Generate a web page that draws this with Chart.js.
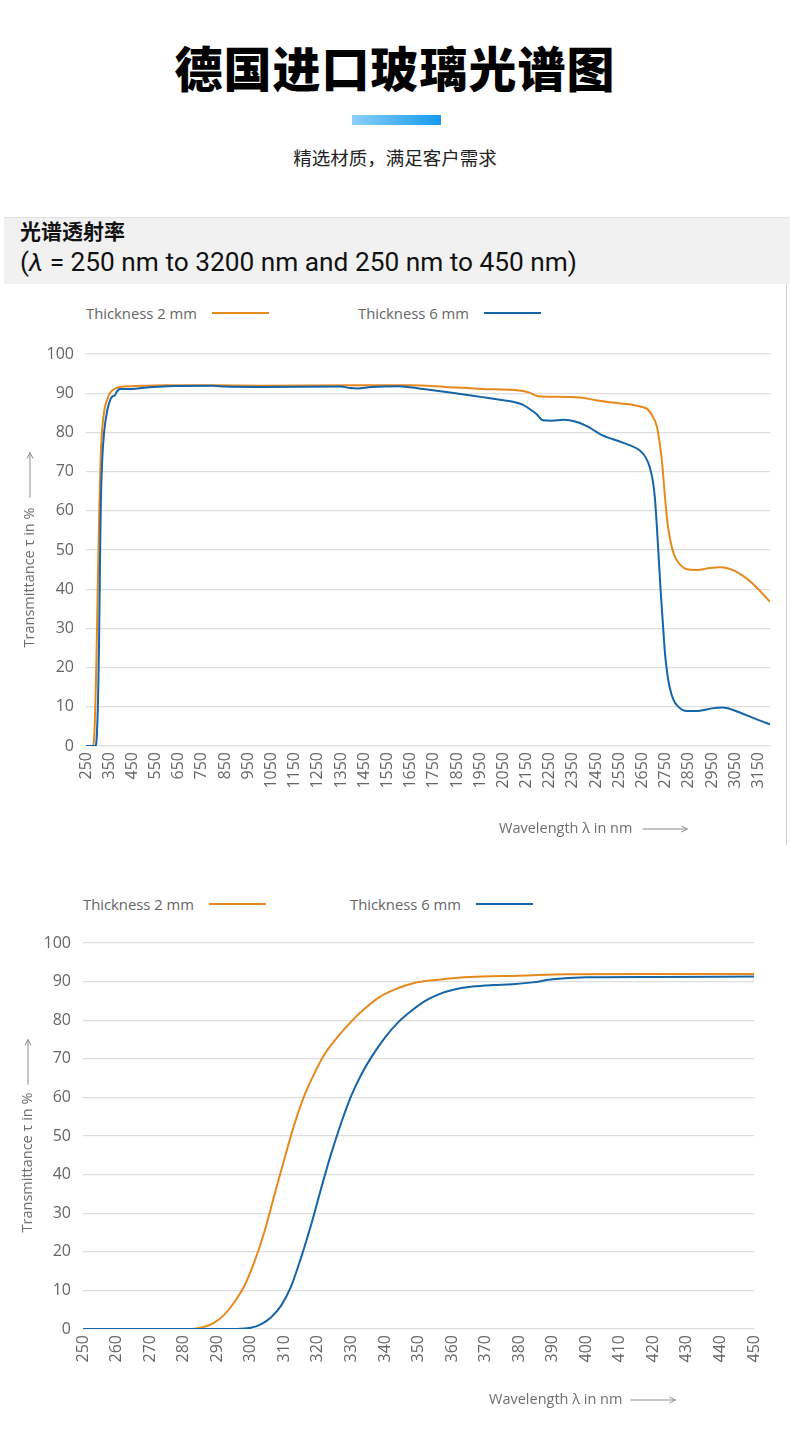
<!DOCTYPE html>
<html lang="zh-CN">
<head>
<meta charset="utf-8">
<title>德国进口玻璃光谱图</title>
<script src="https://cdn.jsdelivr.net/npm/chart.js@4.4.1/dist/chart.umd.min.js"></script>
<style>
  html, body { margin: 0; padding: 0; background: #fff; }
  body { width: 790px; height: 1447px; position: relative; overflow: hidden;
         font-family: "Noto Sans CJK SC", "Noto Sans", sans-serif; }
  .title { position: absolute; top: 30px; left: 0; width: 790px; text-align: center;
           font-size: 48px; font-weight: 900; line-height: 72px; color: #000; letter-spacing: 1px; }
  .bar { position: absolute; left: 352px; top: 115px; width: 89px; height: 10px;
         background: linear-gradient(90deg, #8ccff8, #159bf2); }
  .sub { position: absolute; top: 144px; left: 0; width: 790px; text-align: center;
         font-size: 18.5px; line-height: 26px; color: #222; }
  .panel { position: absolute; left: 4px; top: 217px; width: 782px; height: 628px;
           border-right: 1px solid #d4d4d4; }
  .band { position: absolute; left: 0; top: 0; width: 786px; height: 66px;
          background: #f1f1f1; border-top: 1px solid #e0e0e0; }
  .band .h1 { position: absolute; left: 16px; top: 0px; font-size: 21px; font-weight: 700;
              line-height: 24px; color: #111; }
  .band .h2 { position: absolute; left: 16px; top: 29px; font-family: Roboto, sans-serif;
              font-size: 25px; line-height: 32px; color: #111; white-space: nowrap;
              transform-origin: left center; }
  .band .h2 i { font-style: italic; }
  .legend { position: absolute; left: 0; width: 790px; height: 20px;
            font-family: "Open Sans", sans-serif; font-size: 14.8px; color: #666; }
  .legend .item { position: absolute; top: 0; display: flex; align-items: center; height: 20px; white-space: nowrap; }
  .legend .line { display: inline-block; width: 57px; height: 2px; margin-left: 15px; }
  .wrap { position: absolute; left: 0; }
</style>
</head>
<body>
<div class="title">德国进口玻璃光谱图</div>
<div class="bar"></div>
<div class="sub">精选材质，满足客户需求</div>
<div class="panel">
  <div class="band">
    <div class="h1">光谱透射率</div>
    <div class="h2" id="cap">(<i>λ</i> = 250 nm to 3200 nm and 250 nm to 450 nm)</div>
  </div>
</div>

<div class="legend" id="legend1" style="top:303px"></div>
<div class="wrap" style="top:330px; width:786px; height:515px"><canvas id="chart1"></canvas></div>

<div class="legend" id="legend2" style="top:894px"></div>
<div class="wrap" style="top:920px; width:790px; height:500px"><canvas id="chart2"></canvas></div>

<script>
// === Data ===
const seriesNames = ['Thickness 2 mm', 'Thickness 6 mm'];
const seriesColors = ['#e6891f', '#1565a8'];
const yTicks = [0, 10, 20, 30, 40, 50, 60, 70, 80, 90, 100];

// full range 250 - 3200 nm
const fullTicks = [250, 350, 450, 550, 650, 750, 850, 950, 1050, 1150, 1250, 1350, 1450, 1550, 1650,
  1750, 1850, 1950, 2050, 2150, 2250, 2350, 2450, 2550, 2650, 2750, 2850, 2950, 3050, 3150];

const fullWl2 = [250, 280, 286, 295, 302, 308, 314, 320, 330, 342, 355, 370, 395, 450, 600, 800, 1000,
  1400, 1650, 1800, 1960, 2100, 2160, 2200, 2250, 2380, 2450, 2520, 2600, 2640, 2670, 2690, 2712,
  2725, 2735, 2747, 2758, 2768, 2785, 2800, 2842, 2885, 2940, 2985, 3020, 3050, 3100, 3150, 3200];
const fullT2 = [0, 0, 3, 22, 45, 62, 75, 81, 86, 88.5, 90.2, 91, 91.6, 91.8, 92, 92, 91.9,
  92, 92, 91.6, 91.1, 90.8, 90.2, 89.2, 89.1, 88.9, 88.2, 87.6, 87.1, 86.6, 86, 84.5, 81.5,
  77, 72, 63.5, 57, 53, 49, 47.2, 45.1, 44.9, 45.4, 45.6, 45.3, 44.6, 42.7, 40, 36.8];

const fullWl6 = [250, 290, 296, 302, 306, 310, 314, 320, 328, 342, 356, 365, 375, 385, 395, 450, 500,
  600, 800, 850, 1000, 1350, 1390, 1420, 1480, 1600, 1700, 1820, 1960, 2050, 2100, 2135, 2165, 2194,
  2220, 2260, 2310, 2360, 2410, 2450, 2480, 2565, 2640, 2665, 2682, 2695, 2704, 2712, 2720, 2728,
  2736, 2747, 2758, 2768, 2782, 2797, 2842, 2898, 2950, 2997, 3041, 3080, 3114, 3160, 3200];
const fullT6 = [0, 0, 2, 12, 25, 45, 62, 73, 80, 85.7, 88.5, 89.2, 89.5, 90.6, 91.1, 91.1, 91.4,
  91.8, 91.9, 91.7, 91.6, 91.7, 91.3, 91.2, 91.6, 91.8, 91.1, 90.2, 89.0, 88.2, 87.7, 87.0, 85.9, 84.6,
  83.1, 83.0, 83.2, 82.8, 81.6, 80.2, 79.2, 77.4, 75.3, 73.5, 71.0, 67.5, 63, 56, 48, 40,
  33, 23.7, 18, 14.8, 12, 10.5, 8.9, 9.0, 9.6, 9.8, 9.2, 8.3, 7.5, 6.4, 5.5];

// UV range 250 - 450 nm
const uvTicks = [250, 260, 270, 280, 290, 300, 310, 320, 330, 340, 350, 360, 370, 380, 390, 400,
  410, 420, 430, 440, 450];

const uvWl2 = [250, 282, 286, 289, 292, 295, 298, 301, 304, 307, 310, 313, 316, 319, 322, 326, 330,
  334, 338, 343, 349, 356, 362, 369, 380, 394, 420, 450];
const uvT2 = [0, 0, 0.5, 1.6, 3.6, 6.8, 11, 17.2, 25, 34.5, 44, 53, 60.5, 66.3, 71.2, 75.8, 79.7,
  83, 85.8, 88, 89.7, 90.5, 91, 91.3, 91.5, 91.9, 92, 92];

const uvWl6 = [250, 296, 300, 303, 306, 309, 312, 315, 318, 321, 324, 327, 330, 333, 336, 340, 344,
  348, 352, 356, 361, 366, 372, 378, 384, 390, 400, 420, 450];
const uvT6 = [0, 0, 0.3, 1.2, 3, 6, 11, 18.5, 27, 36.5, 45.5, 53.5, 60.5, 66, 70.5, 75.5, 79.5,
  82.5, 85, 86.7, 88, 88.7, 89.1, 89.3, 89.8, 90.6, 91.1, 91.2, 91.3];

// === Helpers ===
Chart.defaults.font.family = '"Open Sans", sans-serif';

function drawArrow(ctx, x0, x1, y) {
  ctx.beginPath();
  ctx.moveTo(x0, y);
  ctx.lineTo(x1, y);
  ctx.moveTo(x1 - 6, y - 3);
  ctx.lineTo(x1, y);
  ctx.lineTo(x1 - 6, y + 3);
  ctx.stroke();
}

const axisTitles = {
  id: 'axisTitles',
  afterDraw(chart, args, o) {
    const { ctx, chartArea } = chart;
    ctx.save();
    ctx.font = '14.5px "Open Sans", sans-serif';
    ctx.fillStyle = '#6e6e6e';
    ctx.strokeStyle = '#8c8c8c';
    ctx.lineWidth = 1;
    ctx.textBaseline = 'middle';
    ctx.textAlign = 'left';

    // y title, reads bottom to top, centred on the plot
    const tw = ctx.measureText(o.yText).width;
    const total = tw + o.gap + o.arrow;
    ctx.save();
    ctx.translate(o.yX, (chartArea.top + chartArea.bottom) / 2);
    ctx.rotate(-Math.PI / 2);
    ctx.fillText(o.yText, -total / 2, 0);
    drawArrow(ctx, -total / 2 + tw + o.gap, total / 2, 0);
    ctx.restore();

    // x title
    const xw = ctx.measureText(o.xText).width;
    ctx.fillText(o.xText, o.xLeft, o.xY);
    drawArrow(ctx, o.xLeft + xw + o.gap, o.xLeft + xw + o.gap + o.arrow, o.xY);
    ctx.restore();
  }
};

function makeLegend(id, positions) {
  const el = document.getElementById(id);
  seriesNames.forEach((name, i) => {
    const item = document.createElement('div');
    item.className = 'item';
    item.style.left = positions[i] + 'px';
    item.innerHTML = `<span>${name}</span><span class="line" style="background:${seriesColors[i]}"></span>`;
    el.appendChild(item);
  });
}

function makeChart(canvasId, wl2, t2, wl6, t6, xTicks, cfg) {
  const series = [[wl2, t2], [wl6, t6]];
  return new Chart(document.getElementById(canvasId), {
    type: 'line',
    data: {
      datasets: series.map(([xs, ys], i) => ({
        label: seriesNames[i],
        data: xs.map((x, j) => ({ x, y: ys[j] })),
        borderColor: seriesColors[i],
        borderWidth: 2,
        pointRadius: 0,
        cubicInterpolationMode: 'monotone',
        order: i === 0 ? 1 : 0
      }))
    },
    options: {
      responsive: true,
      maintainAspectRatio: false,
      animation: false,
      layout: { padding: { top: cfg.top, right: cfg.right, left: 0, bottom: 0 } },
      plugins: {
        legend: { display: false },
        tooltip: { enabled: false },
        axisTitles: cfg.titles
      },
      scales: {
        x: {
          type: 'linear',
          min: xTicks[0],
          max: cfg.xMax,
          afterBuildTicks: ax => { ax.ticks = xTicks.map(v => ({ value: v })); },
          afterFit: ax => { ax.height = cfg.xAxisH; },
          grid: { display: false, drawTicks: false },
          border: { display: false },
          ticks: {
            autoSkip: false, maxRotation: 90, minRotation: 90, padding: 6,
            color: '#666', font: { size: 16 },
            callback: v => String(v)
          }
        },
        y: {
          min: 0,
          max: 100,
          afterBuildTicks: ax => { ax.ticks = yTicks.map(v => ({ value: v })); },
          afterFit: ax => { ax.width = cfg.yAxisW; },
          grid: { color: '#dedede', lineWidth: 1.2, drawTicks: false },
          border: { display: false },
          ticks: { padding: 12, color: '#666', font: { size: 16 } }
        }
      }
    },
    plugins: [axisTitles]
  });
}

// === Build ===
const cap = document.getElementById('cap');
cap.style.transform = `scaleX(${557 / cap.getBoundingClientRect().width})`;

makeLegend('legend1', [86, 358]);
makeLegend('legend2', [83, 350]);

makeChart('chart1', fullWl2, fullT2, fullWl6, fullT6, fullTicks, {
  top: 24, right: 16, xMax: 3200, xAxisH: 99, yAxisW: 86,
  titles: { yText: 'Transmittance τ in %', xText: 'Wavelength λ in nm', gap: 10, arrow: 45,
            yX: 30, xLeft: 499, xY: 499 }
});

makeChart('chart2', uvWl2, uvT2, uvWl6, uvT6, uvTicks, {
  top: 23, right: 36, xMax: 450, xAxisH: 91, yAxisW: 83,
  titles: { yText: 'Transmittance τ in %', xText: 'Wavelength λ in nm', gap: 8, arrow: 45,
            yX: 28, xLeft: 489, xY: 480 }
});
</script>
</body>
</html>
